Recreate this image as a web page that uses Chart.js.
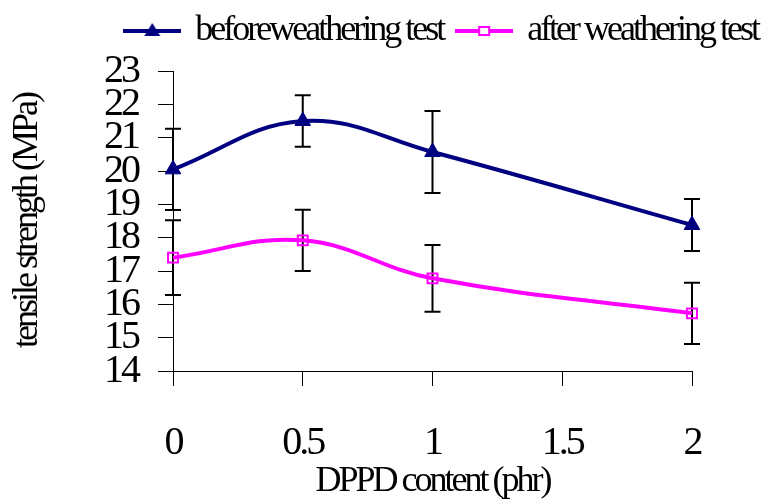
<!DOCTYPE html>
<html>
<head>
<meta charset="utf-8">
<script src="https://cdn.jsdelivr.net/npm/chart.js@4.4.0/dist/chart.umd.min.js"></script>
<style>
  html, body { margin: 0; padding: 0; background: #fff; }
  #wrap { width: 762px; height: 500px; }
</style>
</head>
<body>
<div id="wrap"><canvas id="chart"></canvas></div>
<script>
const contents = [0, 0.5, 1, 2];
const beforeValues = [20.05, 21.5, 20.57, 18.38];
const beforeErrors = [1.22, 0.77, 1.23, 0.78];
const afterValues = [17.4, 17.92, 16.78, 15.73];
const afterErrors = [1.12, 0.92, 1.0, 0.92];
const xTicks = [0, 0.5, 1, 1.5, 2];
const xTickLabels = ['0', '0.5', '1', '1.5', '2'];
const yTicks = [14, 15, 16, 17, 18, 19, 20, 21, 22, 23];
const seriesNames = ['beforeweathering test', 'after weathering test'];

const NAVY = '#000080';
const MAGENTA = '#ff00ff';
const FONT = 'Liberation Serif';

// small canvas used as legend marker: line with the point symbol on it
function legendSample(color, shape) {
    const c = document.createElement('canvas');
    c.width = 58;
    c.height = 20;
    const g = c.getContext('2d');
    g.strokeStyle = color;
    g.lineWidth = 4;
    g.beginPath();
    g.moveTo(0, 10);
    g.lineTo(58, 10);
    g.stroke();
    if (shape === 'triangle') {
        g.fillStyle = color;
        g.beginPath();
        g.moveTo(29, 2);
        g.lineTo(37, 15);
        g.lineTo(21, 15);
        g.closePath();
        g.fill();
    } else {
        g.fillStyle = '#fff';
        g.lineWidth = 2;
        g.fillRect(24, 6, 10, 8);
        g.strokeRect(24, 6, 10, 8);
    }
    return c;
}
const samples = [legendSample(NAVY, 'triangle'), legendSample(MAGENTA, 'rect')];

// the original text is set tight, squeeze the letters a bit
const condensedText = {
    id: 'condensedText',
    beforeUpdate(chart) { chart.ctx.letterSpacing = '-3px'; },
    beforeDraw(chart) { chart.ctx.letterSpacing = '-3px'; },
};

const errorBars = {
    id: 'errorBars',
    beforeDatasetsDraw(chart) {
        const { ctx, scales: { x, y } } = chart;
        ctx.save();
        ctx.strokeStyle = '#000';
        ctx.lineWidth = 2;
        chart.data.datasets.forEach((ds) => {
            ds.data.forEach((pt, i) => {
                const px = x.getPixelForValue(pt.x);
                const top = y.getPixelForValue(pt.y + ds.errors[i]);
                const bot = y.getPixelForValue(pt.y - ds.errors[i]);
                ctx.beginPath();
                ctx.moveTo(px, top); ctx.lineTo(px, bot);
                ctx.moveTo(px - 8, top); ctx.lineTo(px + 8, top);
                ctx.moveTo(px - 8, bot); ctx.lineTo(px + 8, bot);
                ctx.stroke();
            });
        });
        ctx.restore();
    },
};

// empty axes, only used to reserve space around the plot
const hiddenAxis = {
    display: true,
    grid: { display: false },
    border: { display: false },
    ticks: { display: false },
};

new Chart(document.getElementById('chart'), {
    type: 'line',
    data: {
        datasets: [{
            label: seriesNames[0],
            data: contents.map((c, i) => ({ x: c, y: beforeValues[i] })),
            errors: beforeErrors,
            borderColor: NAVY,
            backgroundColor: NAVY,
            borderWidth: 4,
            pointStyle: 'triangle',
            pointRadius: 9,
            pointBorderWidth: 1,
            tension: 0.4,
            clip: false,
        }, {
            label: seriesNames[1],
            data: contents.map((c, i) => ({ x: c, y: afterValues[i] })),
            errors: afterErrors,
            borderColor: MAGENTA,
            backgroundColor: 'rgba(255,255,255,0)',
            borderWidth: 4,
            pointStyle: 'rect',
            pointRadius: 7,
            pointBorderWidth: 2,
            tension: 0.4,
            clip: false,
        }],
    },
    options: {
        responsive: true,
        maintainAspectRatio: false,
        animation: false,
        layout: { padding: { top: -3, right: -12, left: 0, bottom: 0 } },
        plugins: {
            tooltip: { enabled: false },
            legend: {
                position: 'top',
                align: 'end',
                labels: {
                    usePointStyle: true,
                    pointStyleWidth: 50,
                    padding: 16,
                    color: '#000',
                    font: { family: FONT, size: 36 },
                    generateLabels: (c) => c.data.datasets.map((ds, i) => ({
                        text: ds.label,
                        pointStyle: samples[i],
                        fillStyle: ds.borderColor,
                        strokeStyle: ds.borderColor,
                        lineWidth: 0,
                        hidden: false,
                        datasetIndex: i,
                        fontColor: '#000',
                    })),
                },
            },
        },
        scales: {
            x: {
                type: 'linear',
                min: 0,
                max: 2,
                afterBuildTicks: (s) => { s.ticks = xTicks.map((v) => ({ value: v })); },
                afterFit: (s) => { s.height = 129; },
                grid: { drawOnChartArea: false, drawTicks: true, tickLength: 15, color: '#000' },
                border: { display: true, color: '#000', width: 1 },
                ticks: {
                    color: '#000',
                    padding: 33,
                    maxRotation: 0,
                    font: { family: FONT, size: 40 },
                    callback: (v, i) => xTickLabels[i],
                },
                title: {
                    display: true,
                    text: 'DPPD content (phr)',
                    color: '#000',
                    font: { family: FONT, size: 36, lineHeight: 1 },
                    padding: { top: 0, bottom: 0 },
                },
            },
            xTopGap: { ...hiddenAxis, type: 'linear', position: 'top', afterFit: (s) => { s.height = 12; } },
            y: {
                min: 14,
                max: 23,
                afterBuildTicks: (s) => { s.ticks = yTicks.map((v) => ({ value: v })); },
                afterFit: (s) => { s.width = 173; },
                grid: { drawOnChartArea: false, drawTicks: true, tickLength: 15, color: '#000' },
                border: { display: true, color: '#000', width: 1 },
                ticks: { color: '#000', padding: 20, autoSkip: false, font: { family: FONT, size: 40 } },
                title: {
                    display: true,
                    text: 'tensile strength (MPa)',
                    color: '#000',
                    font: { family: FONT, size: 36, lineHeight: 1 },
                    padding: { top: 10, bottom: 0 },
                },
            },
            yRightGap: { ...hiddenAxis, position: 'right', afterFit: (s) => { s.width = 82; } },
        },
    },
    plugins: [condensedText, errorBars],
});
</script>
</body>
</html>
